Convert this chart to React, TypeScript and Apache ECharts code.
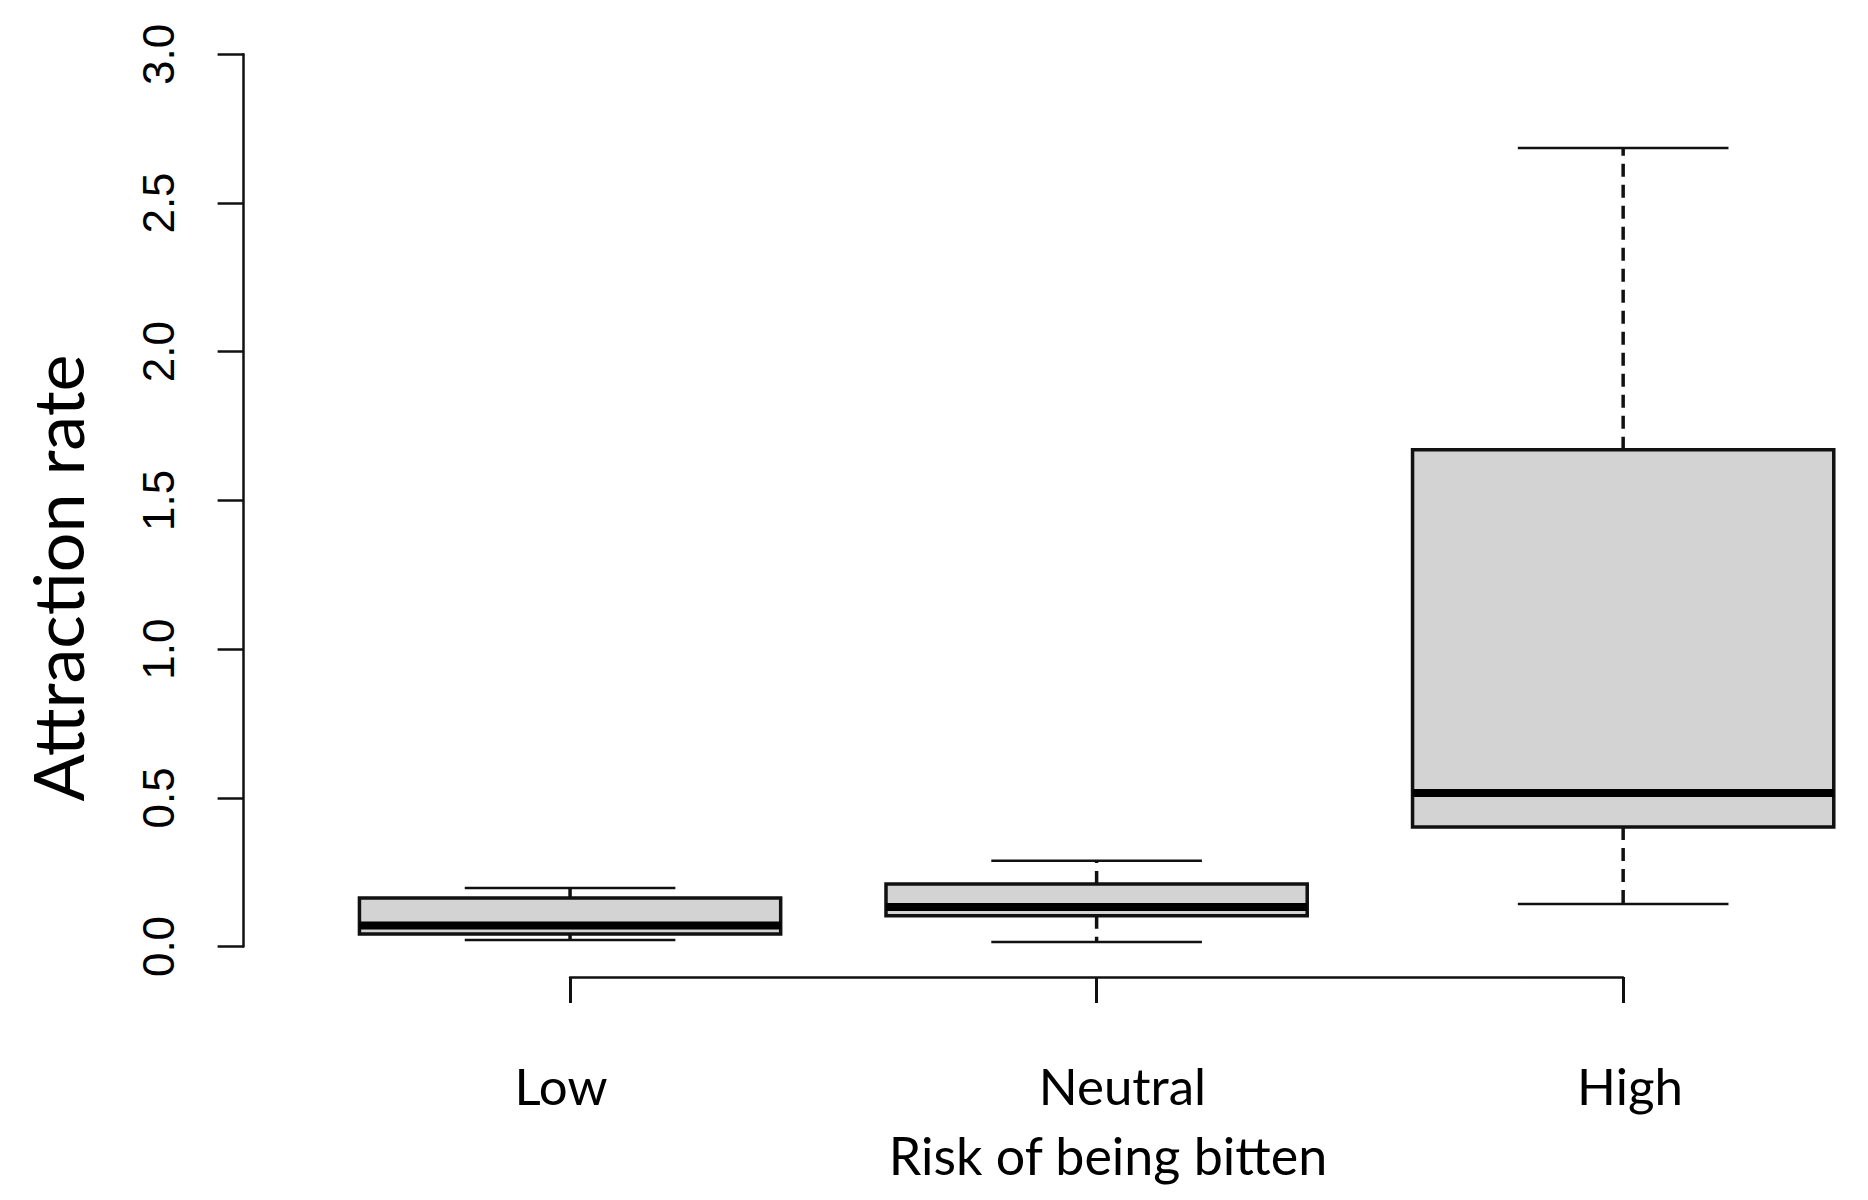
import React, { useEffect, useRef } from "react";
import * as echarts from "echarts";

const categories = ["Low", "Neutral", "High"];
const whiskerLow = [0.022, 0.015, 0.143];
const q1 = [0.042, 0.103, 0.402];
const median = [0.071, 0.133, 0.516];
const q3 = [0.163, 0.21, 1.67];
const whiskerHigh = [0.197, 0.288, 2.685];
const yTicks = { min: 0, max: 3, interval: 0.5 };

const yTitle = "Attraction rate";
const xTitle = "Risk of being bitten";

export default function App() {
  const ref = useRef<HTMLDivElement>(null);
  useEffect(() => {
    if (!ref.current) return;
    const chart = echarts.init(ref.current, null, { renderer: "svg" });
    const data = categories.map((c, i) => [
      i + 1,
      whiskerLow[i],
      q1[i],
      median[i],
      q3[i],
      whiskerHigh[i],
    ]);
    const lineColor = "#111";
    const option: any = {
      animation: false,
      backgroundColor: "#fff",
      grid: [
        { left: 243.6, top: 54.3, right: 0, height: 892.2 },
        { left: 570, top: 976, width: 1053, height: 1 },
      ],
      xAxis: [
        { gridIndex: 0, type: "value", min: 0.38, max: 3.465, show: false },
        {
          gridIndex: 1,
          type: "value",
          min: 1,
          max: 3,
          interval: 1,
          position: "bottom",
          axisLine: { show: true, lineStyle: { color: lineColor, width: 2.5 } },
          axisTick: { show: true, length: 26, lineStyle: { color: lineColor, width: 3 } },
          splitLine: { show: false },
          axisLabel: {
            margin: 83,
            formatter: (v: number) => {
              const i = Math.round(v) - 1;
              return `{c${i}|${categories[i]}}`;
            },
            rich: {
              c0: { fontFamily: "Lato", fontSize: 51, color: "#000", padding: [0, 18, 0, 0] },
              c1: { fontFamily: "Lato", fontSize: 51, color: "#000", padding: [0, 0, 0, 52] },
              c2: { fontFamily: "Lato", fontSize: 51, color: "#000", padding: [0, 0, 0, 14] },
            },
          },
        },
      ],
      yAxis: [
        {
          gridIndex: 0,
          type: "value",
          min: yTicks.min,
          max: yTicks.max,
          interval: yTicks.interval,
          axisLine: { show: true, lineStyle: { color: lineColor, width: 2.5 } },
          axisTick: { show: true, length: 26, lineStyle: { color: lineColor, width: 2.5 } },
          splitLine: { show: false },
          axisLabel: {
            rotate: 90,
            margin: 63,
            fontFamily: "Liberation Sans",
            fontSize: 44,
            color: "#000",
            formatter: (v: number) => v.toFixed(1),
          },
        },
        { gridIndex: 1, type: "value", show: false, min: 0, max: 1 },
      ],
      graphic: [
        {
          type: "text",
          x: 57,
          y: 578,
          rotation: Math.PI / 2,
          style: {
            text: yTitle,
            fontFamily: "Lato",
            fontSize: 70,
            fill: "#000",
            textAlign: "center",
            textVerticalAlign: "middle",
          },
        },
        {
          type: "text",
          x: 1108,
          y: 1155,
          style: {
            text: xTitle,
            fontFamily: "Lato",
            fontSize: 52,
            fill: "#000",
            textAlign: "center",
            textVerticalAlign: "middle",
          },
        },
      ],
      series: [
        {
          type: "custom",
          xAxisIndex: 0,
          yAxisIndex: 0,
          clip: false,
          data,
          renderItem: (params: any, api: any) => {
            const x = api.value(0);
            const lo = api.coord([x, api.value(1)]);
            const b1 = api.coord([x, api.value(2)]);
            const md = api.coord([x, api.value(3)]);
            const b3 = api.coord([x, api.value(4)]);
            const hi = api.coord([x, api.value(5)]);
            const boxW = api.size([0.8, 0])[0];
            const capW = api.size([0.4, 0])[0];
            const cx = lo[0];
            const dash = { stroke: lineColor, lineWidth: 3.5, lineDash: [13, 8] };
            const solid = { stroke: lineColor, lineWidth: 2.5 };
            return {
              type: "group",
              children: [
                { type: "line", shape: { x1: cx, y1: b3[1], x2: cx, y2: hi[1] }, style: dash },
                { type: "line", shape: { x1: cx, y1: b1[1], x2: cx, y2: lo[1] }, style: dash },
                { type: "line", shape: { x1: cx - capW / 2, y1: hi[1], x2: cx + capW / 2, y2: hi[1] }, style: solid },
                { type: "line", shape: { x1: cx - capW / 2, y1: lo[1], x2: cx + capW / 2, y2: lo[1] }, style: solid },
                {
                  type: "rect",
                  shape: { x: cx - boxW / 2, y: b3[1], width: boxW, height: b1[1] - b3[1] },
                  style: { fill: "#d3d3d3", stroke: lineColor, lineWidth: 3.5 },
                },
                {
                  type: "line",
                  shape: { x1: cx - boxW / 2, y1: md[1], x2: cx + boxW / 2, y2: md[1] },
                  style: { stroke: "#000", lineWidth: 8 },
                },
              ],
            };
          },
        },
      ],
    };
    chart.setOption(option);
    return () => chart.dispose();
  }, []);
  return (
    <div
      ref={ref}
      style={{ position: "fixed", left: 0, top: 0, width: 1868, height: 1200, background: "#fff" }}
    />
  );
}
